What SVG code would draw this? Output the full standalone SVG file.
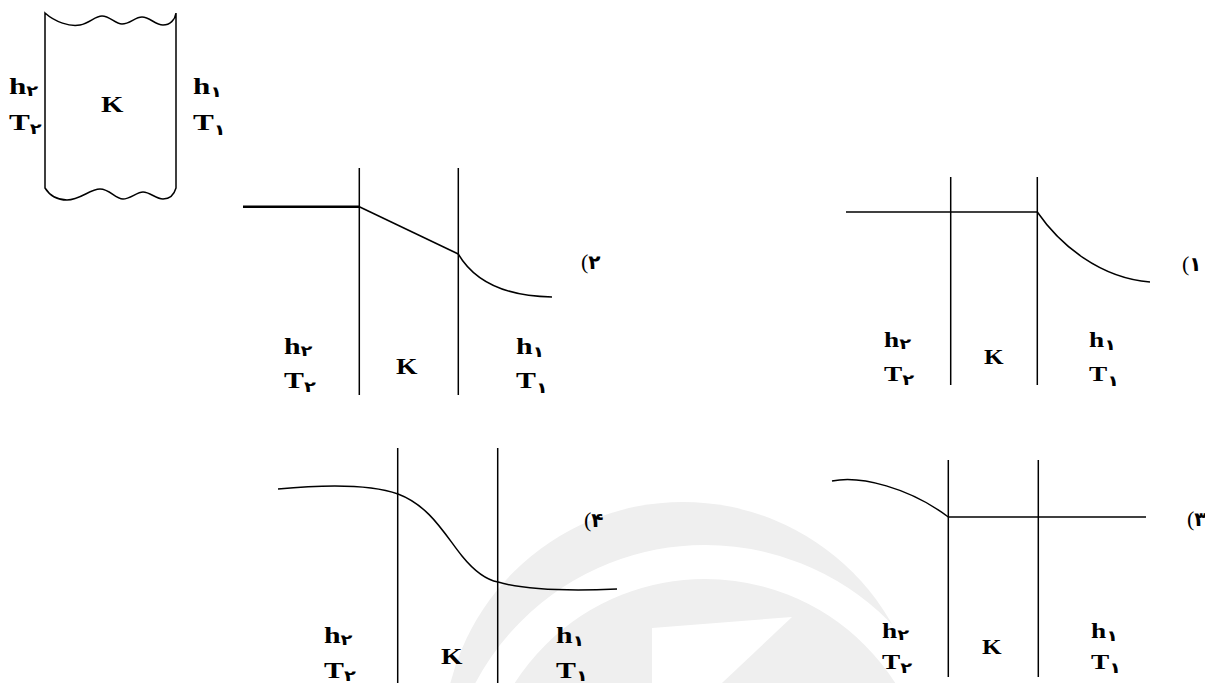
<svg xmlns="http://www.w3.org/2000/svg" width="1205" height="683" viewBox="0 0 1205 683">
<style>
.ln{fill:none;stroke:#000;stroke-width:1.5}
.thick{fill:none;stroke:#000;stroke-width:2.6}
.lb{font-family:"Liberation Serif","DejaVu Sans",serif;font-weight:bold;font-size:24px;fill:#000}
.md{font-size:23px}
.sm{font-size:21px}
.sub{font-family:"DejaVu Sans",sans-serif;font-weight:bold;font-size:15px}
.tag{font-family:"Liberation Serif","DejaVu Sans",serif;font-size:22px;fill:#000}
.tagd{font-family:"DejaVu Sans",sans-serif;font-size:20px;font-weight:bold}
.wm{fill:#efefef}
</style>
<rect width="1205" height="683" fill="#fff"/>
<g id="watermark">
<circle class="wm" cx="683" cy="742" r="240"/>
<circle cx="705" cy="805" r="243" fill="none" stroke="#fff" stroke-width="34"/>
<polygon points="652,628 792,617 722,683 652,683" fill="#fff"/>
</g>
<g id="box">
<path class="ln" d="M45,13 C55,22 70,27 80,25 C90,23 95,16 102,16 C110,16 115,24 122,24 C130,24 135,17 142,17 C150,17 155,25 163,25 C170,25 175,20 176,13 L176,188 C174,195 170,199 163,199 C156,199 150,192 143,192 C137,192 130,199 123,199 C115,199 110,189 100,189 C90,189 80,200 67,200 C58,200 50,196 45,188 Z"/>
<text class="lb" transform="translate(9,94) scale(1.3,1)">h<tspan class="sub" dy="2">۲</tspan></text>
<text class="lb" transform="translate(9,130) scale(1.3,1)">T<tspan class="sub" dy="4">۲</tspan></text>
<text class="lb" transform="translate(101,112) scale(1.2,1)">K</text>
<text class="lb" transform="translate(193,94) scale(1.3,1)">h<tspan class="sub" dy="3">۱</tspan></text>
<text class="lb" transform="translate(193,130) scale(1.3,1)">T<tspan class="sub" dy="5">۱</tspan></text>
</g>
<g id="diagram2">
<line class="ln" x1="359.3" y1="168" x2="359.3" y2="395"/>
<line class="ln" x1="458.3" y1="168" x2="458.3" y2="395"/>
<text class="lb md" transform="translate(284,354) scale(1.3,1)">h<tspan class="sub" dy="2">۲</tspan></text>
<text class="lb md" transform="translate(284,388) scale(1.3,1)">T<tspan class="sub" dy="4">۲</tspan></text>
<text class="lb md" transform="translate(396,374) scale(1.2,1)">K</text>
<text class="lb md" transform="translate(516,354) scale(1.3,1)">h<tspan class="sub" dy="3">۱</tspan></text>
<text class="lb md" transform="translate(516,388) scale(1.3,1)">T<tspan class="sub" dy="5">۱</tspan></text>
<text class="tag" x="581" y="269">(<tspan class="tagd">۲</tspan></text>
</g>
<g id="diagram1">
<line class="ln" x1="950.7" y1="177" x2="950.7" y2="385"/>
<line class="ln" x1="1037.3" y1="177" x2="1037.3" y2="385"/>
<text class="lb sm" transform="translate(884,347) scale(1.3,1)">h<tspan class="sub" dy="2">۲</tspan></text>
<text class="lb sm" transform="translate(884,381) scale(1.3,1)">T<tspan class="sub" dy="4">۲</tspan></text>
<text class="lb sm" transform="translate(984,364) scale(1.2,1)">K</text>
<text class="lb sm" transform="translate(1089,347) scale(1.3,1)">h<tspan class="sub" dy="3">۱</tspan></text>
<text class="lb sm" transform="translate(1089,381) scale(1.3,1)">T<tspan class="sub" dy="5">۱</tspan></text>
<text class="tag" x="1182" y="271">(<tspan class="tagd">۱</tspan></text>
</g>
<g id="diagram4">
<line class="ln" x1="397.7" y1="448" x2="397.7" y2="683"/>
<line class="ln" x1="497.7" y1="448" x2="497.7" y2="683"/>
<text class="lb md" transform="translate(324,643) scale(1.3,1)">h<tspan class="sub" dy="2">۲</tspan></text>
<text class="lb md" transform="translate(324,678) scale(1.3,1)">T<tspan class="sub" dy="3">۲</tspan></text>
<text class="lb md" transform="translate(441,664) scale(1.2,1)">K</text>
<text class="lb md" transform="translate(556,643) scale(1.3,1)">h<tspan class="sub" dy="3">۱</tspan></text>
<text class="lb md" transform="translate(556,678) scale(1.3,1)">T<tspan class="sub" dy="3">۱</tspan></text>
<text class="tag" x="584" y="527">(<tspan class="tagd">۴</tspan></text>
</g>
<g id="diagram3">
<line class="ln" x1="948.3" y1="460" x2="948.3" y2="677"/>
<line class="ln" x1="1038.3" y1="460" x2="1038.3" y2="677"/>
<text class="lb sm" transform="translate(882,638) scale(1.3,1)">h<tspan class="sub" dy="2">۲</tspan></text>
<text class="lb sm" transform="translate(882,669) scale(1.3,1)">T<tspan class="sub" dy="4">۲</tspan></text>
<text class="lb sm" transform="translate(982,654) scale(1.2,1)">K</text>
<text class="lb sm" transform="translate(1091,638) scale(1.3,1)">h<tspan class="sub" dy="3">۱</tspan></text>
<text class="lb sm" transform="translate(1091,669) scale(1.3,1)">T<tspan class="sub" dy="4">۱</tspan></text>
<text class="tag" x="1187" y="526">(<tspan class="tagd">۳</tspan></text>
</g>
<g id="connectors">
<line class="thick" x1="243" y1="206.7" x2="359.3" y2="206.7"/>
<line class="ln" x1="359.3" y1="206.7" x2="458.3" y2="254"/>
<path class="ln" d="M458.3,254 C470,274 495,296 552,297"/>
<line class="ln" x1="846" y1="212" x2="1037.3" y2="212"/>
<path class="ln" d="M1037.3,212 C1060,245 1100,278 1150,282"/>
<path class="ln" d="M278,489 C320,485 370,484 398,494 C430,506 445,535 462,556 C475,572 487,580 498,582 C525,590 570,591 617,589"/>
<path class="ln" d="M832,481 C860,475 910,488 948.3,517"/>
<line class="ln" x1="948.3" y1="517" x2="1146" y2="517"/>
</g>
</svg>
